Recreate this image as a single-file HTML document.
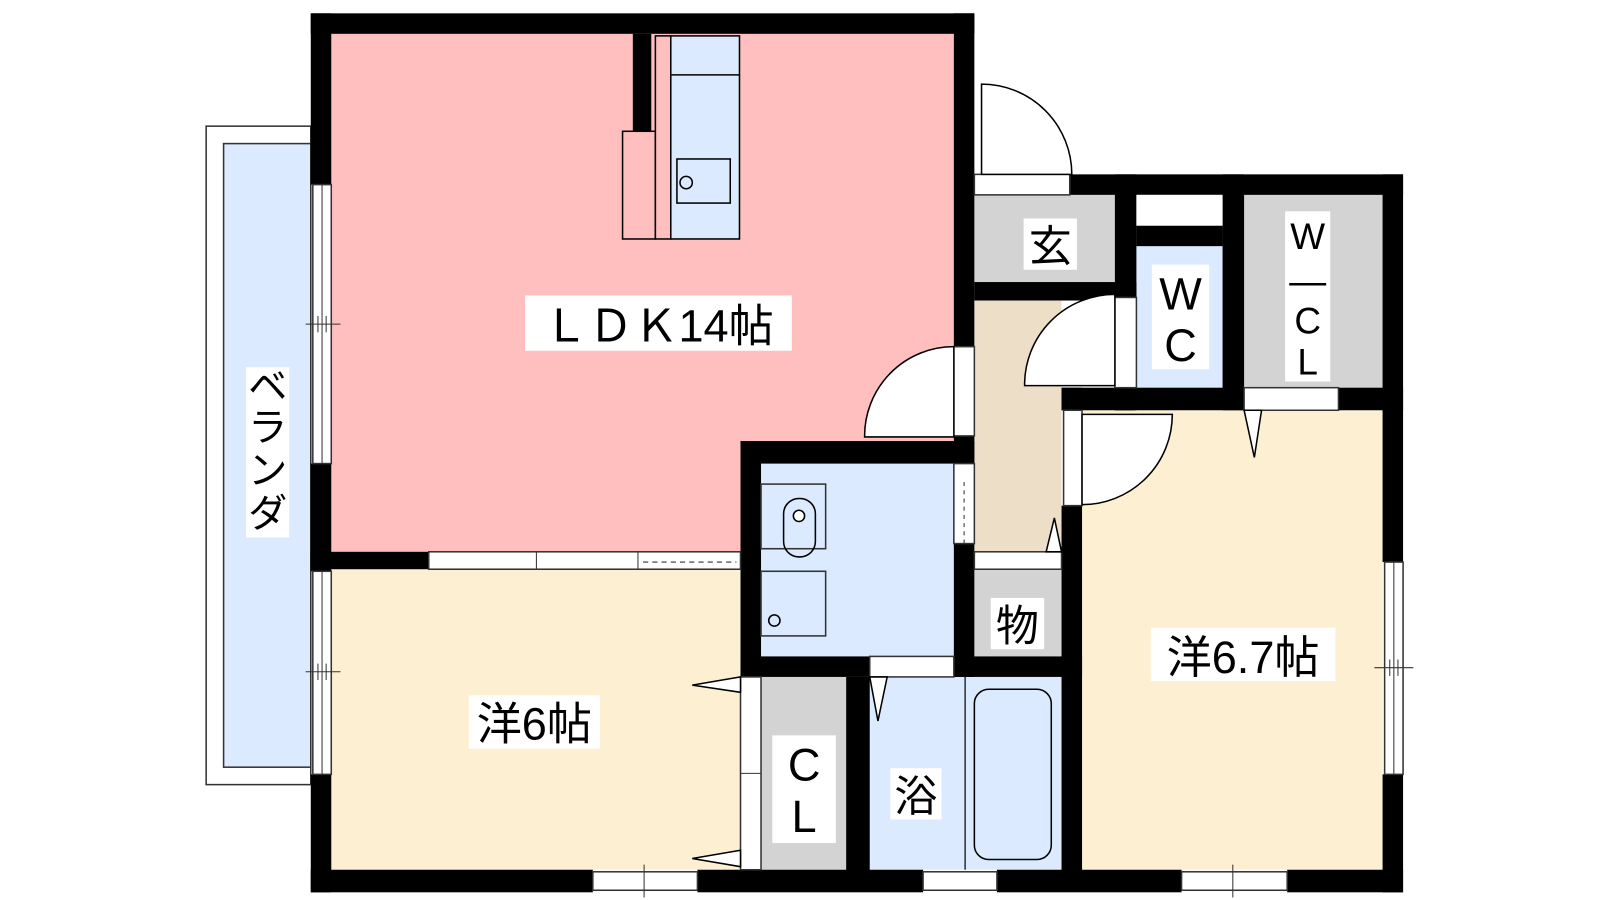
<!DOCTYPE html>
<html><head><meta charset="utf-8"><style>
html,body{margin:0;padding:0;background:#fff;width:1600px;height:900px;overflow:hidden}
svg{display:block}
text{font-family:"Liberation Sans","Noto Sans CJK JP",sans-serif;fill:#000}
</style></head><body>
<svg width="1600" height="900" viewBox="0 0 1560 877.5" preserveAspectRatio="none">
<!-- balcony -->
<rect x="201" y="123" width="102" height="642" fill="#fff" stroke="#333" stroke-width="1.5"/>
<rect x="218" y="140" width="85" height="608" fill="#dbeaff" stroke="#333" stroke-width="1.5"/>
<rect x="240" y="358" width="42" height="166" fill="#fff"/>
<text x="261" y="390" font-size="38" text-anchor="middle">ベ</text>
<text x="261" y="430" font-size="38" text-anchor="middle">ラ</text>
<text x="261" y="472" font-size="38" text-anchor="middle">ン</text>
<text x="261" y="514" font-size="38" text-anchor="middle">ダ</text>

<!-- rooms -->
<rect x="323" y="33" width="607" height="505" fill="#ffbfbf"/>
<rect x="323" y="555" width="399" height="293" fill="#fdf0d2"/>
<rect x="742" y="452" width="188" height="188" fill="#dbeaff"/>
<rect x="742" y="660" width="83" height="188" fill="#d3d3d3"/>
<rect x="848" y="660" width="187" height="188" fill="#dbeaff"/>
<rect x="950" y="555" width="85" height="85" fill="#d3d3d3"/>
<rect x="950" y="293" width="85" height="245" fill="#eddfc7"/>
<rect x="950" y="190" width="137" height="85" fill="#d3d3d3"/>
<rect x="1108" y="240" width="84" height="138" fill="#dbeaff"/>
<rect x="1213" y="190" width="135" height="188" fill="#d3d3d3"/>
<rect x="1055" y="400" width="293" height="448" fill="#fdf0d2"/>

<!-- kitchen -->
<rect x="607" y="128" width="32" height="105" fill="#ffbfbf" stroke="#000" stroke-width="1.5"/>
<rect x="639" y="35" width="15" height="198" fill="#ffbfbf" stroke="#000" stroke-width="1.5"/>
<rect x="654" y="35" width="67" height="198" fill="#dbeaff" stroke="#000" stroke-width="1.5"/>
<line x1="654" y1="73" x2="721" y2="73" stroke="#000" stroke-width="1.5"/>
<rect x="660" y="155" width="52" height="43" fill="none" stroke="#000" stroke-width="1.5"/>
<circle cx="669" cy="178" r="6" fill="none" stroke="#000" stroke-width="1.5"/>

<!-- walls -->
<g fill="#000">
<rect x="303" y="13" width="647" height="20"/>
<rect x="303" y="13" width="20" height="167"/>
<rect x="303" y="452" width="20" height="105"/>
<rect x="303" y="755" width="20" height="115"/>
<rect x="303" y="848" width="275" height="22"/>
<rect x="680" y="848" width="220" height="22"/>
<rect x="972" y="848" width="180" height="22"/>
<rect x="1255" y="848" width="113" height="22"/>
<rect x="617" y="33" width="18" height="95"/>
<rect x="930" y="13" width="20" height="325"/>
<rect x="930" y="425" width="20" height="27"/>
<rect x="303" y="538" width="115" height="17"/>
<rect x="722" y="430" width="228" height="22"/>
<rect x="722" y="430" width="20" height="230"/>
<rect x="722" y="640" width="126" height="20"/>
<rect x="930" y="640" width="125" height="20"/>
<rect x="930" y="530" width="20" height="130"/>
<rect x="825" y="660" width="23" height="190"/>
<rect x="950" y="170" width="418" height="20"/>
<rect x="1087" y="170" width="21" height="123"/>
<rect x="950" y="275" width="158" height="18"/>
<rect x="1087" y="275" width="21" height="125"/>
<rect x="1192" y="170" width="21" height="230"/>
<rect x="1108" y="220" width="84" height="20"/>
<rect x="1035" y="378" width="20" height="22"/>
<rect x="1035" y="493" width="20" height="357"/>
<rect x="1087" y="378" width="126" height="22"/>
<rect x="1305" y="378" width="63" height="22"/>
<rect x="1348" y="170" width="20" height="378"/>
<rect x="1348" y="755" width="20" height="115"/>
<rect x="1035" y="378" width="70" height="22"/>
</g>
<rect x="1108" y="190" width="84" height="30" fill="#fff" stroke="none"/>

<!-- windows & strips -->
<g fill="#fff" stroke="#333" stroke-width="1.5">
<rect x="305" y="180" width="18" height="272"/>
<rect x="305" y="557" width="18" height="198"/>
<rect x="578" y="850" width="102" height="18"/>
<rect x="900" y="850" width="72" height="18"/>
<rect x="1152" y="850" width="103" height="18"/>
<rect x="1350" y="548" width="18" height="207"/>
<rect x="418" y="538" width="304" height="17"/>
<rect x="722" y="660" width="20" height="188"/>
<rect x="848" y="640" width="82" height="20"/>
<rect x="950" y="538" width="85" height="17"/>
<rect x="930" y="452" width="20" height="78"/>
<rect x="930" y="338" width="20" height="87"/>
<rect x="950" y="170" width="93" height="20"/>
<rect x="1037" y="400" width="18" height="93"/>
<rect x="1087" y="290" width="21" height="88"/>
<rect x="1213" y="378" width="92" height="22"/>
</g>
<line x1="314" y1="180" x2="314" y2="452" stroke="#333"/>
<line x1="314" y1="557" x2="314" y2="755" stroke="#333"/>
<line x1="1359" y1="548" x2="1359" y2="755" stroke="#333"/>
<line x1="298" y1="316" x2="332" y2="316" stroke="#333"/><line x1="310" y1="308" x2="310" y2="324" stroke="#333"/><line x1="318" y1="308" x2="318" y2="324" stroke="#333"/>
<line x1="298" y1="655" x2="332" y2="655" stroke="#333"/><line x1="310" y1="647" x2="310" y2="663" stroke="#333"/><line x1="318" y1="647" x2="318" y2="663" stroke="#333"/>
<line x1="1340" y1="651" x2="1378" y2="651" stroke="#333"/><line x1="1355" y1="643" x2="1355" y2="659" stroke="#333"/><line x1="1363" y1="643" x2="1363" y2="659" stroke="#333"/>
<line x1="628" y1="843" x2="628" y2="875" stroke="#333"/><line x1="1202" y1="843" x2="1202" y2="875" stroke="#333"/>
<line x1="523" y1="538" x2="523" y2="555" stroke="#333"/><line x1="622" y1="538" x2="622" y2="555" stroke="#333"/>
<line x1="627" y1="548" x2="718" y2="548" stroke="#333" stroke-dasharray="5,4"/>
<line x1="940" y1="470" x2="940" y2="530" stroke="#333" stroke-dasharray="4,4"/>
<line x1="722" y1="754" x2="742" y2="754" stroke="#333"/>

<!-- doors -->
<g fill="#fff" stroke="#000" stroke-width="1.5">
<path d="M957 170 L957 82 A88 88 0 0 1 1045 170 Z"/>
<path d="M930 338 L930 426 L843 426 A87 87 0 0 1 930 338 Z"/>
<path d="M1087 287 L1087 376 L999 376 A88 88 0 0 1 1087 287 Z"/>
<path d="M1055 404 L1143 404 A88 88 0 0 1 1055 492 Z"/>
<path d="M1213 400 L1223 446 L1230 400 Z"/>
<path d="M848 660 L856 703 L865 660 Z"/>
<path d="M1035 538 L1028 505 L1020 538 Z"/>
<path d="M722 660 L675 668 L722 675 Z"/>
<path d="M722 829 L675 837 L722 845 Z"/>
</g>

<!-- fixtures -->
<rect x="742" y="472" width="63" height="63" fill="none" stroke="#333" stroke-width="1.5"/>
<rect x="764" y="486" width="31" height="57" rx="15" fill="none" stroke="#000" stroke-width="1.5"/>
<circle cx="779" cy="503" r="5.5" fill="#fff" stroke="#000" stroke-width="1.5"/>
<rect x="742" y="557" width="63" height="63" fill="none" stroke="#333" stroke-width="1.5"/>
<circle cx="755" cy="605" r="5.5" fill="none" stroke="#000" stroke-width="1.5"/>
<line x1="941" y1="660" x2="941" y2="848" stroke="#333" stroke-width="1.5"/>
<rect x="950" y="672" width="75" height="166" rx="14" fill="none" stroke="#000" stroke-width="1.5"/>

<!-- labels -->
<rect x="512" y="288" width="260" height="54" fill="#fff"/>
<text x="642" y="333" font-size="44" text-anchor="middle">ＬＤＫ14帖</text>
<rect x="457" y="678" width="128" height="52" fill="#fff"/>
<text x="521" y="721" font-size="44" text-anchor="middle">洋6帖</text>
<rect x="1122" y="612" width="180" height="52" fill="#fff"/>
<text x="1212" y="656" font-size="44" text-anchor="middle">洋6.7帖</text>
<rect x="998" y="213" width="52" height="50" fill="#fff"/>
<text x="1024" y="255" font-size="42" text-anchor="middle">玄</text>
<rect x="966" y="583" width="52" height="50" fill="#fff"/>
<text x="992" y="625" font-size="42" text-anchor="middle">物</text>
<rect x="868" y="749" width="50" height="50" fill="#fff"/>
<text x="893" y="791" font-size="42" text-anchor="middle">浴</text>
<rect x="1123" y="258" width="56" height="102" fill="#fff"/>
<text x="1151" y="302" font-size="44" text-anchor="middle">W</text>
<text x="1151" y="352" font-size="44" text-anchor="middle">C</text>
<rect x="753" y="717" width="62" height="105" fill="#fff"/>
<text x="784" y="761" font-size="44" text-anchor="middle">C</text>
<text x="784" y="811" font-size="44" text-anchor="middle">L</text>
<rect x="1253" y="206" width="44" height="166" fill="#fff"/>
<text x="1275" y="243" font-size="36" text-anchor="middle">W</text>
<text x="1275" y="286" font-size="36" text-anchor="middle">—</text>
<text x="1275" y="325" font-size="36" text-anchor="middle">C</text>
<text x="1275" y="365" font-size="36" text-anchor="middle">L</text>
</svg>
</body></html>
